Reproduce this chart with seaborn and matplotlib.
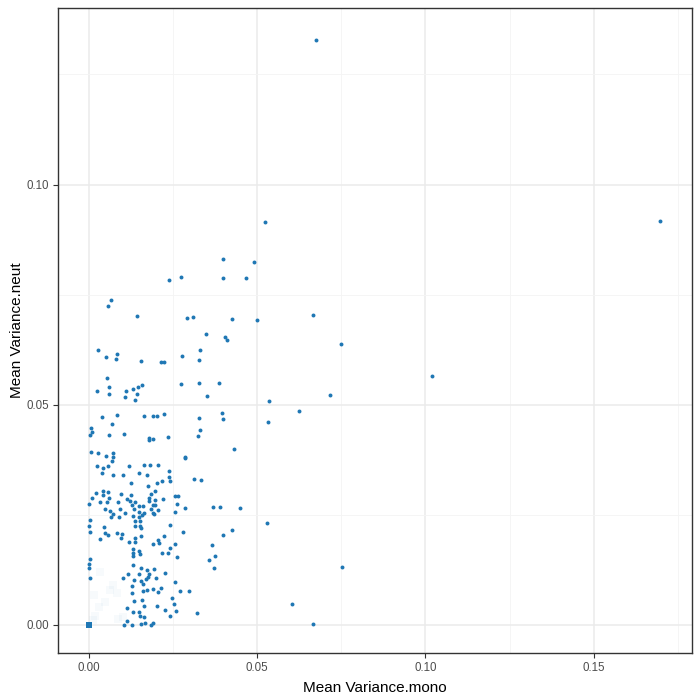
import matplotlib
matplotlib.use("Agg")
import matplotlib.pyplot as plt
import seaborn as sns
import pandas as pd
import numpy as np
from matplotlib.ticker import MultipleLocator, FixedLocator

# ---- data ----
mono = [
    0.0675, 0.1697, 0.0524, 0.0399, 0.0491, 0.0399, 0.0274, 0.0467, 0.0239, 0.0066,
    0.0057, 0.0143, 0.0666, 0.0292, 0.0310, 0.0426, 0.0500, 0.0348, 0.0405, 0.0411,
    0.0749, 0.0331, 0.0028, 0.0084, 0.0081, 0.0051, 0.0277, 0.0328, 0.0155, 0.0215,
    0.0224, 0.1019, 0.0054, 0.0060, 0.0025, 0.0060, 0.0111, 0.0132, 0.0146, 0.0158,
    0.0108, 0.0143, 0.0138, 0.0274, 0.0328, 0.0387, 0.0351, 0.0536, 0.0717, 0.0625,
    0.0396, 0.0399, 0.0533, 0.0432, 0.0328, 0.0331, 0.0325,
    0.0040, 0.0084, 0.0164, 0.0069, 0.0007, 0.0010, 0.0004, 0.0060, 0.0105, 0.0007,
    0.0028, 0.0072, 0.0051, 0.0072, 0.0069, 0.0025, 0.0042, 0.0057, 0.0120, 0.0164,
    0.0040, 0.0072, 0.0102, 0.0149, 0.0126, 0.0022, 0.0042, 0.0057, 0.0096, 0.0126,
    0.0010, 0.0042, 0.0060, 0.0114, 0.0001, 0.0034, 0.0054, 0.0087, 0.0123, 0.0138,
    0.0048, 0.0063, 0.0072, 0.0093, 0.0108, 0.0129, 0.0135, 0.0149, 0.0161, 0.0149,
    0.0164,
    0.0191, 0.0203, 0.0224, 0.0179, 0.0179, 0.0191, 0.0236, 0.0286, 0.0286, 0.0182,
    0.0206, 0.0239, 0.0173, 0.0239, 0.0241, 0.0313, 0.0334, 0.0176, 0.0203, 0.0218,
    0.0197, 0.0185, 0.0179, 0.0179, 0.0197, 0.0221, 0.0256, 0.0265, 0.0262, 0.0191,
    0.0197, 0.0206, 0.0185, 0.0191, 0.0256, 0.0286,
    0.0004, 0.0001, 0.0004, 0.0046, 0.0048, 0.0057, 0.0034, 0.0084, 0.0099, 0.0096,
    0.0066, 0.0090, 0.0132, 0.0149, 0.0158, 0.0138, 0.0152, 0.0138, 0.0152, 0.0155,
    0.0138, 0.0120, 0.0138, 0.0132, 0.0149, 0.0132, 0.0152, 0.0132, 0.0004, 0.0001,
    0.0001, 0.0132, 0.0155, 0.0149, 0.0117, 0.0102, 0.0004, 0.0135, 0.0155, 0.0161,
    0.0129, 0.0161, 0.0129, 0.0135, 0.0158, 0.0114, 0.0132, 0.0149, 0.0152, 0.0164,
    0.0114, 0.0129, 0.0105,
    0.0194, 0.0155, 0.0241, 0.0280, 0.0224, 0.0206, 0.0191, 0.0209, 0.0256, 0.0241,
    0.0218, 0.0236, 0.0262, 0.0357, 0.0173, 0.0194, 0.0179, 0.0227, 0.0176, 0.0170,
    0.0200, 0.0173, 0.0191, 0.0206, 0.0215, 0.0256, 0.0271, 0.0298, 0.0247, 0.0164,
    0.0203, 0.0253, 0.0227, 0.0259, 0.0322, 0.0241, 0.0155, 0.0167, 0.0185, 0.0191,
    0.0369, 0.0390, 0.0449, 0.0529, 0.0426, 0.0399, 0.0366, 0.0375, 0.0372, 0.0752,
    0.0604, 0.0666,
]
neut = [
    0.1328, 0.0917, 0.0915, 0.0831, 0.0824, 0.0788, 0.0790, 0.0788, 0.0783, 0.0738,
    0.0724, 0.0701, 0.0704, 0.0697, 0.0699, 0.0695, 0.0692, 0.0661, 0.0654, 0.0647,
    0.0638, 0.0624, 0.0624, 0.0615, 0.0604, 0.0608, 0.0611, 0.0602, 0.0599, 0.0597,
    0.0597, 0.0565, 0.0561, 0.0540, 0.0531, 0.0524, 0.0531, 0.0536, 0.0540, 0.0545,
    0.0518, 0.0524, 0.0511, 0.0547, 0.0549, 0.0549, 0.0520, 0.0508, 0.0522, 0.0486,
    0.0481, 0.0468, 0.0461, 0.0400, 0.0470, 0.0443, 0.0429,
    0.0472, 0.0477, 0.0475, 0.0456, 0.0447, 0.0438, 0.0431, 0.0431, 0.0434, 0.0393,
    0.0390, 0.0390, 0.0384, 0.0381, 0.0372, 0.0361, 0.0356, 0.0361, 0.0361, 0.0363,
    0.0345, 0.0341, 0.0341, 0.0345, 0.0322, 0.0300, 0.0304, 0.0302, 0.0297, 0.0295,
    0.0288, 0.0295, 0.0288, 0.0286, 0.0275, 0.0279, 0.0279, 0.0279, 0.0281, 0.0279,
    0.0263, 0.0259, 0.0252, 0.0263, 0.0254, 0.0272, 0.0263, 0.0270, 0.0270, 0.0257,
    0.0254,
    0.0475, 0.0475, 0.0479, 0.0424, 0.0420, 0.0422, 0.0427, 0.0381, 0.0379, 0.0363,
    0.0363, 0.0350, 0.0341, 0.0336, 0.0327, 0.0331, 0.0329, 0.0316, 0.0322, 0.0327,
    0.0304, 0.0297, 0.0288, 0.0281, 0.0284, 0.0286, 0.0293, 0.0293, 0.0275, 0.0272,
    0.0272, 0.0261, 0.0263, 0.0254, 0.0257, 0.0266,
    0.0238, 0.0225, 0.0211, 0.0222, 0.0209, 0.0204, 0.0195, 0.0209, 0.0207, 0.0197,
    0.0245, 0.0245, 0.0247, 0.0245, 0.0250, 0.0236, 0.0236, 0.0225, 0.0225, 0.0202,
    0.0197, 0.0188, 0.0188, 0.0173, 0.0168, 0.0163, 0.0161, 0.0157, 0.0150, 0.0138,
    0.0129, 0.0136, 0.0129, 0.0116, 0.0116, 0.0107, 0.0107, 0.0102, 0.0100, 0.0093,
    0.0089, 0.0077, 0.0073, 0.0054, 0.0057, 0.0039, 0.0030, 0.0030, 0.0020, 0.0018,
    0.0009, 0.0000, 0.0000,
    0.0252, 0.0220, 0.0227, 0.0211, 0.0202, 0.0193, 0.0184, 0.0186, 0.0184, 0.0175,
    0.0163, 0.0163, 0.0154, 0.0148, 0.0125, 0.0127, 0.0116, 0.0118, 0.0109, 0.0104,
    0.0107, 0.0079, 0.0082, 0.0075, 0.0084, 0.0098, 0.0077, 0.0077, 0.0061, 0.0043,
    0.0043, 0.0048, 0.0034, 0.0032, 0.0027, 0.0020, 0.0002, 0.0005, 0.0000, 0.0005,
    0.0268, 0.0268, 0.0266, 0.0232, 0.0216, 0.0204, 0.0182, 0.0157, 0.0129, 0.0132,
    0.0048, 0.0002,
]

# stacked points at the origin (drawn as a solid square)
origin_mono = [0.0]
origin_neut = [0.0]

# faint overlapping marks near the origin
faint_mono = [0.0016, 0.0031, 0.0048, 0.0063, 0.0084, 0.0087, 0.0013, 0.0034, 0.0020, 0.0102, 0.0072]
faint_neut = [0.0068, 0.0041, 0.0052, 0.0079, 0.0073, 0.0014, 0.0011, 0.0120, 0.0020, 0.0018, 0.0090]

x_ticks = [0.00, 0.05, 0.10, 0.15]
x_tick_labels = ["0.00", "0.05", "0.10", "0.15"]
y_ticks = [0.00, 0.05, 0.10]
y_tick_labels = ["0.00", "0.05", "0.10"]

df = pd.DataFrame({"Mean Variance.mono": mono, "Mean Variance.neut": neut})
df_origin = pd.DataFrame({"Mean Variance.mono": origin_mono, "Mean Variance.neut": origin_neut})
df_faint = pd.DataFrame({"Mean Variance.mono": faint_mono, "Mean Variance.neut": faint_neut})

sns.set_style("white")
plt.rcParams["font.family"] = ["Liberation Sans", "DejaVu Sans"]

blue = "#1f77b4"
fig = plt.figure(figsize=(7, 7), dpi=100)
ax = fig.add_axes([58 / 700, 1 - 653 / 700, (692 - 58) / 700, (653 - 8) / 700])

ax.set_xlim(-0.0091, 0.1792)
ax.set_ylim(-0.00636, 0.1401)

# grid (ggplot theme_bw like)
ax.xaxis.set_major_locator(FixedLocator(x_ticks))
ax.yaxis.set_major_locator(FixedLocator(y_ticks))
ax.xaxis.set_minor_locator(FixedLocator([0.025, 0.075, 0.125, 0.175]))
ax.yaxis.set_minor_locator(FixedLocator([0.025, 0.075, 0.125]))
ax.grid(which="major", color="#ebebeb", linewidth=1.1)
ax.grid(which="minor", color="#f4f4f4", linewidth=0.6)
ax.set_axisbelow(True)

sns.scatterplot(data=df_faint, x="Mean Variance.mono", y="Mean Variance.neut", ax=ax,
                marker="s", s=36, color=blue, alpha=0.035, linewidth=0, legend=False)
sns.scatterplot(data=df, x="Mean Variance.mono", y="Mean Variance.neut", ax=ax,
                s=8, color=blue, linewidth=0, legend=False)
sns.scatterplot(data=df_origin, x="Mean Variance.mono", y="Mean Variance.neut", ax=ax,
                marker="s", s=22, color=blue, linewidth=0, legend=False)

ax.set_xticklabels(x_tick_labels)
ax.set_yticklabels(y_tick_labels)
ax.tick_params(axis="both", which="major", length=3.5, width=0.8, color="#333333",
               labelsize=8.3, labelcolor="#4d4d4d", pad=3, bottom=True, left=True)
ax.tick_params(which="minor", length=0)

for s in ax.spines.values():
    s.set_visible(True)
    s.set_color("#333333")
    s.set_linewidth(1.0)

ax.set_xlabel("Mean Variance.mono", fontsize=11, color="black", labelpad=5)
ax.set_ylabel("Mean Variance.neut", fontsize=11, color="black", labelpad=2)

fig.savefig("out.png", dpi=100)
